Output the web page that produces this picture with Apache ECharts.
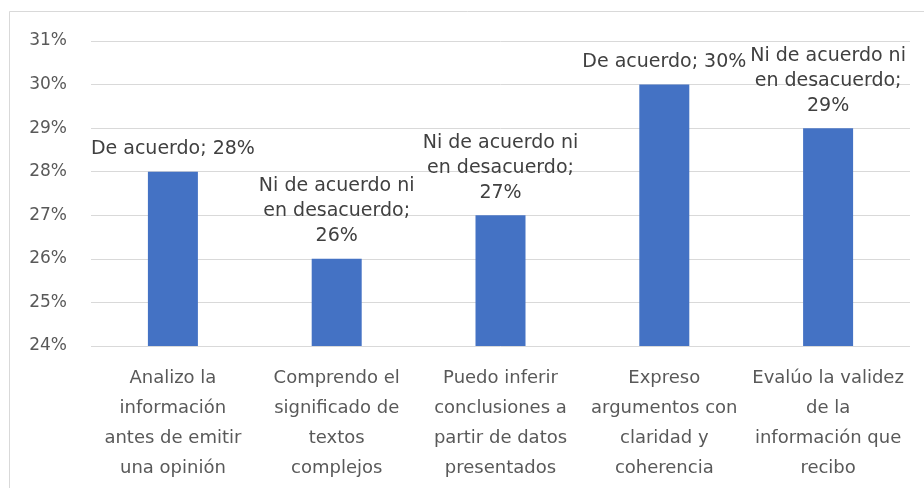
<!DOCTYPE html>
<html>
<head>
<meta charset="utf-8">
<script src="https://cdn.jsdelivr.net/npm/echarts@6/dist/echarts.min.js"></script>
<style>
  html, body { margin: 0; padding: 0; background: #fff; }
  #chart { width: 924px; height: 488px; }
</style>
</head>
<body>
<div id="chart"></div>
<script>
// categories (statements) and the most frequent answer for each
const categories = [
  'Analizo la\ninformación\nantes de emitir\nuna opinión',
  'Comprendo el\nsignificado de\ntextos\ncomplejos',
  'Puedo inferir\nconclusiones a\npartir de datos\npresentados',
  'Expreso\nargumentos con\nclaridad y\ncoherencia',
  'Evalúo la validez\nde la\ninformación que\nrecibo'
]
const responses = [
  'De acuerdo',
  'Ni de acuerdo ni\nen desacuerdo',
  'Ni de acuerdo ni\nen desacuerdo',
  'De acuerdo',
  'Ni de acuerdo ni\nen desacuerdo'
]
const values = [28, 26, 27, 30, 29]
const yTicks = { min: 24, max: 31, interval: 1 }

const axisColor = '#595959'
const labelColor = '#404040'
const font = '"DejaVu Sans", sans-serif'

const chart = echarts.init(document.getElementById('chart'))

const formatLabel = (p) => {
  const name = responses[p.dataIndex]
  const sep = name.includes('\n') ? ';\n' : '; '
  return name + sep + p.value + '%'
}

chart.setOption({
  animation: false,
  backgroundColor: '#fff',
  graphic: [{
    type: 'rect',
    shape: { x: 9.5, y: 11.5, width: 930, height: 500 },
    style: { fill: 'none', stroke: '#d9d9d9', lineWidth: 1 },
    silent: true
  }],
  grid: { left: 91, right: 14, top: 41, bottom: 142 },
  xAxis: {
    type: 'category',
    data: categories,
    axisLine: { show: false },
    axisTick: { show: false },
    axisLabel: {
      interval: 0,
      color: axisColor,
      fontFamily: font,
      fontSize: 18,
      lineHeight: 30,
      margin: 17
    }
  },
  yAxis: {
    type: 'value',
    min: yTicks.min,
    max: yTicks.max,
    interval: yTicks.interval,
    axisLine: { show: false },
    axisTick: { show: false },
    axisLabel: {
      color: axisColor,
      fontFamily: font,
      fontSize: 17,
      margin: 24,
      formatter: v => v + '%'
    },
    splitLine: { lineStyle: { color: '#d9d9d9', width: 1 } }
  },
  series: [{
    type: 'bar',
    data: values,
    barWidth: 50,
    itemStyle: { color: '#4472c4' },
    label: {
      show: true,
      position: 'top',
      distance: 10,
      color: labelColor,
      fontFamily: font,
      fontSize: 19,
      lineHeight: 25,
      formatter: formatLabel
    }
  }]
})
</script>
</body>
</html>
